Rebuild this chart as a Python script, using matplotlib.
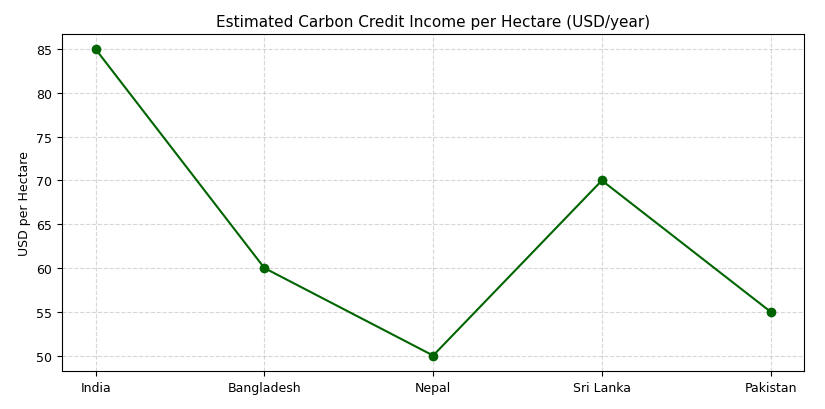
import matplotlib
matplotlib.use("Agg")
import matplotlib.pyplot as plt

countries = ["India", "Bangladesh", "Nepal", "Sri Lanka", "Pakistan"]
income = [85, 60, 50, 70, 55]

fig, ax = plt.subplots(figsize=(8.25, 4.10), dpi=100)
ax.plot(countries, income, color="darkgreen", marker="o", markersize=6, linewidth=1.5)
ax.set_title("Estimated Carbon Credit Income per Hectare (USD/year)", fontsize=11)
ax.set_ylabel("USD per Hectare", fontsize=9)
ax.grid(True, linestyle="--", alpha=0.5)
ax.tick_params(labelsize=9)
fig.subplots_adjust(left=0.075, right=0.975, top=0.915, bottom=0.093)
fig.savefig("out.png", dpi=100)
